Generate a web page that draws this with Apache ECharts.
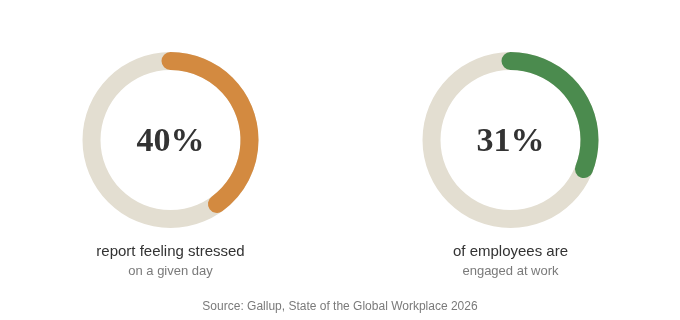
<!DOCTYPE html>
<html><head><meta charset="utf-8">
<script src="https://cdn.jsdelivr.net/npm/echarts@6/dist/echarts.min.js"></script>
<style>html,body{margin:0;padding:0;background:#fff}#c{width:680px;height:320px}</style>
</head><body><div id="c"></div>
<script>
const values = [40, 31];
const colors = ['#d38a40', '#4b8b4e'];
const mainLabels = ['report feeling stressed', 'of employees are'];
const subLabels = ['on a given day', 'engaged at work'];
const centersX = [170.5, 510.5];
const source = 'Source: Gallup, State of the Global Workplace 2026';

const chart = echarts.init(document.getElementById('c'), null, {renderer: 'canvas'});
const series = values.map((v, i) => ({
  type: 'gauge',
  center: [centersX[i], 140],
  radius: 88,
  startAngle: 90,
  endAngle: -270,
  min: 0, max: 100,
  pointer: {show: false},
  progress: {show: true, width: 18, roundCap: true, itemStyle: {color: colors[i]}},
  axisLine: {lineStyle: {width: 18, color: [[1, '#e3ded1']]}},
  axisTick: {show: false}, splitLine: {show: false}, axisLabel: {show: false},
  anchor: {show: false}, title: {show: false},
  detail: {
    valueAnimation: false, offsetCenter: [0, 2],
    formatter: '{value}%',
    fontFamily: 'Liberation Serif', fontWeight: 'bold', fontSize: 34, color: '#333333'
  },
  data: [{value: v}]
}));
const titles = [];
values.forEach((v, i) => {
  titles.push({text: mainLabels[i], left: centersX[i], top: 244, textAlign: 'center', padding: 0,
    textStyle: {fontFamily: 'Liberation Sans', fontSize: 15, fontWeight: 'normal', color: '#333333'}});
  titles.push({text: subLabels[i], left: centersX[i], top: 265, textAlign: 'center', padding: 0,
    textStyle: {fontFamily: 'Liberation Sans', fontSize: 13, fontWeight: 'normal', color: '#7a7a7a'}});
});
titles.push({text: source, left: 'center', top: 301, padding: 0,
  textStyle: {fontFamily: 'Liberation Sans', fontSize: 12, fontWeight: 'normal', color: '#7a7a7a'}});
chart.setOption({animation: false, title: titles, series});
</script></body></html>
